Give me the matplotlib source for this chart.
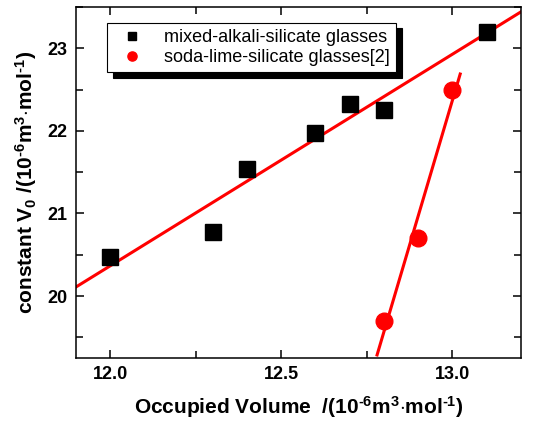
import numpy as np
import matplotlib.pyplot as plt
from matplotlib.ticker import MultipleLocator

plt.rcParams['font.family'] = ['Liberation Sans', 'DejaVu Sans']
plt.rcParams['mathtext.fontset'] = 'custom'
plt.rcParams['mathtext.rm'] = 'Liberation Sans:bold'
plt.rcParams['mathtext.it'] = 'Liberation Sans:bold'
plt.rcParams['mathtext.bf'] = 'Liberation Sans:bold'

# mixed-alkali-silicate glasses
mixed_x = [12.0, 12.3, 12.4, 12.6, 12.7, 12.8, 13.1]
mixed_y = [20.47, 20.77, 21.54, 21.98, 22.32, 22.25, 23.2]
# fitted line as drawn
mixed_fit_x = [11.9, 13.2]
mixed_fit_y = [20.11, 23.44]

# soda-lime-silicate glasses[2]
soda_x = [12.8, 12.9, 13.0]
soda_y = [19.7, 20.7, 22.5]
soda_fit_x = [12.78, 13.023]

xticks = [12.0, 12.5, 13.0]
yticks = [20, 21, 22, 23]

fig = plt.figure(figsize=(5.47, 4.28), dpi=100)
ax = fig.add_axes([0.139, 0.1636, 0.813, 0.82])

ax.plot(mixed_fit_x, mixed_fit_y, color='red', lw=2.2, zorder=2)
k, b = np.polyfit(soda_x, soda_y, 1)
ax.plot(soda_fit_x, [k * v + b for v in soda_fit_x], color='red', lw=2.2, zorder=2)

ax.plot(mixed_x, mixed_y, 's', color='black', ms=11, ls='none',
        label='mixed-alkali-silicate glasses', zorder=3)
ax.plot(soda_x, soda_y, 'o', color='red', ms=12, ls='none',
        label='soda-lime-silicate glasses[2]', zorder=3)

ax.set_xlim(11.9, 13.2)
ax.set_ylim(19.25, 23.5)
ax.set_xticks(xticks)
ax.set_yticks(yticks)
ax.xaxis.set_minor_locator(MultipleLocator(0.25))
ax.yaxis.set_minor_locator(MultipleLocator(0.5))
ax.tick_params(which='both', direction='in', top=True, right=True, width=1.1)
ax.tick_params(which='major', length=6, labelsize=13, pad=6)
ax.tick_params(which='minor', length=5)
for lbl in ax.get_xticklabels() + ax.get_yticklabels():
    lbl.set_fontweight('bold')
for s in ax.spines.values():
    s.set_linewidth(1.1)

ax.set_xlabel(r'Occupied Volume  /(10$^{\text{-}6}$m$^3$$\cdot$mol$^{\text{-}1}$)',
              fontsize=15, fontweight='bold', labelpad=8)
ax.set_ylabel(r'constant V$_0$ /(10$^{\text{-}6}$m$^3$$\cdot$mol$^{\text{-}1}$)',
              fontsize=15, fontweight='bold', labelpad=6)

leg = ax.legend(loc='upper left', bbox_to_anchor=(0.07, 0.955), borderaxespad=0,
                fontsize=13, markerscale=0.55, frameon=True, fancybox=False,
                edgecolor='black',
                shadow={'color': 'black', 'alpha': 1, 'ox': 4, 'oy': -4},
                handletextpad=0.8, borderpad=0.35, labelspacing=0.15)
leg.get_frame().set_linewidth(0.8)

fig.savefig('out.png', dpi=100)
